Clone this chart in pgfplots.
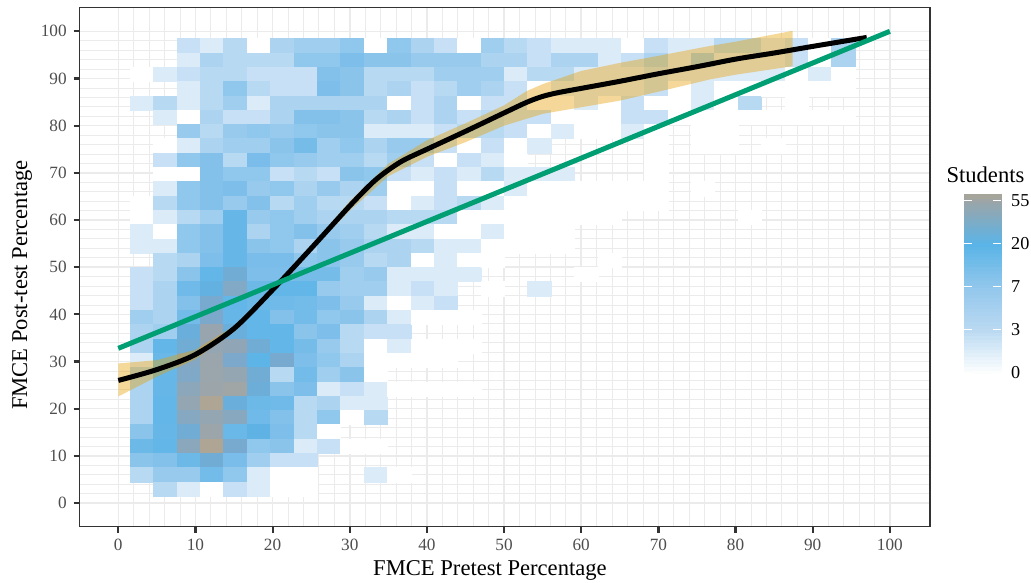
\documentclass[border=0pt]{standalone}
\usepackage{fontspec}
\setmainfont{Liberation Serif}
\usepackage{pgfplots}
\usepackage{pgfplotstable}
\pgfplotsset{compat=1.18}
\definecolor{gridc}{HTML}{EBEBEB}
\definecolor{framec}{HTML}{333333}
\definecolor{tickc}{HTML}{4D4D4D}
\definecolor{ribbonc}{HTML}{E69F00}
\definecolor{greenc}{HTML}{009E73}
% student counts per tile: row j (post-test score/33), columns c1..c33 (pretest score/33); -1 = no tile
\pgfplotstableread{
j c1 c2 c3 c4 c5 c6 c7 c8 c9 c10 c11 c12 c13 c14 c15 c16 c17 c18 c19 c20 c21 c22 c23 c24 c25 c26 c27 c28 c29 c30 c31
32 -1 -1 2 1 3 0 4 5 5 7 0 7 4 2 0 5 3 2 1 1 1 0 2 1 1 3 3 1 2 0 4
31 -1 -1 1 4 3 3 3 7 7 10 8 8 6 6 6 4 4 2 4 4 1 2 4 1 5 1 1 1 2 0 4
30 0 1 2 3 3 2 2 2 9 8 3 3 3 5 5 5 1 3 3 1 1 1 2 1 1 1 1 1 0 1 0
29 -1 -1 1 3 7 3 2 2 10 8 3 4 2 3 5 4 2 0 1 1 1 1 2 0 1 0 0 0 0 0 0
28 1 3 1 3 5 1 4 4 4 4 4 0 2 4 0 2 2 0 0 1 0 2 0 0 1 0 3 -1 0 -1 -1
27 -1 1 0 4 2 2 4 9 9 8 3 4 2 4 2 3 2 2 0 0 0 2 2 0 0 0 0 0 0 0 0
26 -1 -1 6 3 6 7 6 7 8 8 1 1 1 2 3 3 2 0 1 0 0 1 0 -1 0 0 -1 -1 -1 -1 -1
25 -1 0 1 4 5 5 8 12 5 7 4 6 6 2 0 2 0 1 -1 -1 -1 -1 0 -1 0 0 -1 0 -1 -1 -1
24 -1 2 7 9 3 11 7 6 5 5 3 5 2 0 2 1 0 -1 -1 -1 -1 -1 0 -1 -1 -1 -1 -1 -1 -1 -1
23 -1 0 0 9 7 7 2 3 2 8 7 2 1 2 1 3 1 1 1 -1 -1 -1 0 -1 -1 -1 -1 -1 -1 -1 -1
22 -1 1 7 9 10 6 7 4 6 4 5 0 0 2 0 0 1 0 0 0 0 0 0 -1 0 -1 -1 -1 -1 -1 -1
21 0 3 7 9 6 9 3 5 3 3 2 0 1 2 3 1 0 0 0 0 0 0 0 -1 -1 -1 -1 -1 -1 -1 -1
20 0 1 3 5 17 6 7 5 4 4 4 3 3 3 0 0 0 0 0 0 0 -1 -1 -1 -1 -1 0 -1 -1 -1 -1
19 1 0 7 9 17 4 7 9 6 5 3 1 1 0 0 1 0 0 0 -1 -1 -1 -1 -1 -1 -1 -1 -1 -1 -1 -1
18 1 1 7 9 17 8 7 4 8 6 4 4 3 1 1 0 0 0 0 -1 -1 -1 -1 -1 -1 -1 -1 -1 -1 -1 -1
17 -1 3 4 10 17 11 11 7 8 6 3 4 0 1 0 0 -1 -1 -1 -1 0 -1 -1 -1 -1 -1 -1 -1 -1 -1 -1
16 2 3 8 18 26 10 10 12 12 5 6 1 1 1 1 -1 -1 -1 -1 0 -1 -1 -1 -1 -1 -1 -1 -1 -1 -1 -1
15 2 4 14 22 33 15 18 18 6 5 5 1 2 1 -1 0 -1 1 -1 -1 -1 -1 -1 -1 -1 -1 -1 -1 -1 -1 -1
14 2 4 9 28 18 15 14 13 10 6 1 0 1 2 -1 -1 -1 -1 -1 -1 -1 -1 -1 -1 -1 -1 -1 -1 -1 -1 -1
13 5 4 13 30 17 18 9 13 7 8 4 1 0 0 0 -1 -1 -1 -1 -1 -1 -1 -1 -1 -1 -1 -1 -1 -1 -1 -1
12 4 5 24 44 24 18 18 8 10 3 2 2 -1 -1 -1 -1 -1 -1 -1 -1 -1 -1 -1 -1 -1 -1 -1 -1 -1 -1 -1
11 4 18 26 42 40 26 18 12 6 3 0 1 0 0 0 -1 -1 -1 -1 -1 -1 -1 -1 -1 -1 -1 -1 -1 -1 -1 -1
10 1 16 34 45 30 20 28 10 7 4 0 0 0 0 -1 -1 -1 -1 -1 -1 -1 -1 -1 -1 -1 -1 -1 -1 -1 -1 -1
9 4 17 32 45 42 26 3 13 5 8 0 -1 -1 -1 -1 -1 -1 -1 -1 -1 -1 -1 -1 -1 -1 -1 -1 -1 -1 -1 -1
8 4 17 38 46 48 25 8 10 1 2 1 0 0 0 0 -1 -1 -1 -1 -1 -1 -1 -1 -1 -1 -1 -1 -1 -1 -1 -1
7 4 18 42 55 24 15 14 3 4 1 1 -1 -1 -1 -1 -1 -1 -1 -1 -1 -1 -1 -1 -1 -1 -1 -1 -1 -1 -1 -1
6 4 18 35 42 36 14 9 3 7 0 3 -1 -1 -1 -1 -1 -1 -1 -1 -1 -1 -1 -1 -1 -1 -1 -1 -1 -1 -1 -1
5 8 17 26 46 16 21 10 3 0 -1 -1 -1 -1 -1 -1 -1 -1 -1 -1 -1 -1 -1 -1 -1 -1 -1 -1 -1 -1 -1 -1
4 15 18 37 55 28 7 8 1 2 0 0 -1 -1 -1 -1 -1 -1 -1 -1 -1 -1 -1 -1 -1 -1 -1 -1 -1 -1 -1 -1
3 8 9 15 26 11 5 2 2 -1 -1 -1 -1 -1 -1 -1 -1 -1 -1 -1 -1 -1 -1 -1 -1 -1 -1 -1 -1 -1 -1 -1
2 3 6 6 13 7 1 0 0 -1 -1 1 0 -1 -1 -1 -1 -1 -1 -1 -1 -1 -1 -1 -1 -1 -1 -1 -1 -1 -1 -1
1 -1 3 1 0 2 1 0 0 -1 -1 -1 -1 -1 -1 -1 -1 -1 -1 -1 -1 -1 -1 -1 -1 -1 -1 -1 -1 -1 -1 -1
}\tiles
\begin{document}
\begin{tikzpicture}
\path[use as bounding box] (-79.7pt,-55.3pt) rectangle (951.3pt,526.7pt);
\begin{axis}[
  at={(0pt,0pt)}, anchor=south west,
  scale only axis, width=850.3pt, height=519pt,
  clip mode=individual,
  xmin=-5, xmax=105.2, ymin=-5, ymax=105,
  xtick={0,10,...,100}, ytick={0,10,...,100},
  minor xtick={2,4,...,98}, minor ytick={2,4,...,98},
  tick pos=lower, tick align=outside,
  major tick length=6pt, minor tick length=0pt,
  major tick style={line width=2.2pt,color=framec},
  minor tick style={draw=none},
  grid=both,
  major grid style={line width=1.5pt,color=gridc},
  minor grid style={line width=0.8pt,color=gridc},
  axis line style={line width=1.5pt,color=framec},
  tick label style={font=\fontsize{17.2}{20}\selectfont,color=tickc,/pgf/number format/assume math mode=true},
  xticklabel style={yshift=-3pt},
  yticklabel style={xshift=-3.5pt},
  xlabel={FMCE Pretest Percentage},
  ylabel={FMCE Post-test Percentage},
  every axis x label/.style={at={(axis description cs:0.4825,-0.0834)},anchor=center,font=\fontsize{22.6}{26}\selectfont},
  every axis y label/.style={at={(axis description cs:-0.0679,0.4657)},anchor=center,rotate=90,font=\fontsize{22.6}{26}\selectfont},
  colormap={heat}{rgb255(0pt)=(255,255,255) rgb255(1pt)=(220,235,248) rgb255(2pt)=(200,224,245) rgb255(3pt)=(184,217,242) rgb255(5pt)=(160,206,239) rgb255(7pt)=(144,199,236) rgb255(10pt)=(125,190,234) rgb255(20pt)=(92,180,231) rgb255(28pt)=(120,170,207) rgb255(45pt)=(154,165,172) rgb255(55pt)=(175,165,148)},
  point meta min=0, point meta max=55,
]
\pgfplotsinvokeforeach{1,...,31}{
  \addplot[forget plot, scatter, only marks, mark=square*, mark size=11.695pt, point meta=explicit,
    scatter/use mapped color={draw=mapped color,fill=mapped color},
    mark options={yscale=0.611, line width=0.1pt}]
    table[x expr={#1*100/33}, y expr={\thisrow{c#1}<0 ? nan : \thisrow{j}*100/33}, meta=c#1] {\tiles};
}
\addplot[forget plot, fill=ribbonc, fill opacity=0.4, draw=none] coordinates {
 (0,29.6)(5,30.3)(10,32.5)(15,37.5)(20,45.7)(25,54.5)(30,64)(35,71.9)(40,76.9)(45,80.5)(50,84.3)(52.9,87.3)(55,88.8)(60,91.6)(65,93.3)(70,94.8)(76.7,96.9)(80,97.8)(87.4,100.1)
 (87.4,92.6)(80,90.8)(76.7,89.8)(70,87.2)(65,85.3)(60,83.9)(55,82.5)(50,80)(45,76.5)(40,73.4)(35,69.3)(30,62)(25,53.5)(20,44.7)(15,36.3)(10,30.5)(5,26.8)(0,22.6)
} -- cycle;
\addplot[forget plot, black, line width=5pt, smooth] coordinates {
 (0,26)(5,28.3)(10,31.5)(15,37)(20,45.2)(25,54)(30,63)(33,68)(35,70.6)(37,72.7)(40,75)(45,78.8)(50,82.7)(53,85)(55,86.2)(57,87)(60,87.9)(65,89.4)(70,91)(75,92.5)(80,94.1)(85,95.4)(90,96.8)(97,98.7)
};
\addplot[forget plot, greenc, line width=5pt] coordinates {(0,32.8)(100,100)};
\end{axis}
\begin{axis}[
  at={(884.3pt,153.7pt)}, anchor=south west,
  scale only axis, width=36.7pt, height=179pt,
  clip mode=individual,
  xmin=0, xmax=1, ymin=0, ymax=4.16,
  xtick=\empty, ytick={0,1,2,3,4}, yticklabels={0,3,7,20,55},
  ytick align=inside, ytick pos=both, yticklabel pos=right,
  major tick length=8pt,
  major tick style={line width=1pt,color=white},
  axis line style={draw=none},
  tick label style={font=\fontsize{18.2}{20}\selectfont,color=black,/pgf/number format/assume math mode=true},
  yticklabel style={xshift=7pt},
  colormap={leg}{rgb255(0pt)=(255,255,255) rgb255(100pt)=(187,218,242) rgb255(200pt)=(146,199,236) rgb255(300pt)=(90,180,231) rgb255(400pt)=(155,165,170) rgb255(416pt)=(170,165,150)},
  point meta min=0, point meta max=4.16,
  title={Students}, title style={font=\fontsize{22.6}{26}\selectfont, at={(0.5,1)}, anchor=center, xshift=3.1pt, yshift=13pt},
  axis on top,
]
\addplot[scatter, only marks, mark=square*, mark size=18.35pt, point meta=y,
  scatter/use mapped color={draw=mapped color,fill=mapped color},
  mark options={yscale=0.1, line width=0.1pt}] coordinates {
 (0.5,0.04)(0.5,0.12)(0.5,0.20)(0.5,0.28)(0.5,0.36)(0.5,0.44)(0.5,0.52)(0.5,0.60)(0.5,0.68)(0.5,0.76)
 (0.5,0.84)(0.5,0.92)(0.5,1.00)(0.5,1.08)(0.5,1.16)(0.5,1.24)(0.5,1.32)(0.5,1.40)(0.5,1.48)(0.5,1.56)
 (0.5,1.64)(0.5,1.72)(0.5,1.80)(0.5,1.88)(0.5,1.96)(0.5,2.04)(0.5,2.12)(0.5,2.20)(0.5,2.28)(0.5,2.36)
 (0.5,2.44)(0.5,2.52)(0.5,2.60)(0.5,2.68)(0.5,2.76)(0.5,2.84)(0.5,2.92)(0.5,3.00)(0.5,3.08)(0.5,3.16)
 (0.5,3.24)(0.5,3.32)(0.5,3.40)(0.5,3.48)(0.5,3.56)(0.5,3.64)(0.5,3.72)(0.5,3.80)(0.5,3.88)(0.5,3.96)
 (0.5,4.04)(0.5,4.12)};
\end{axis}
\end{tikzpicture}
\end{document}
